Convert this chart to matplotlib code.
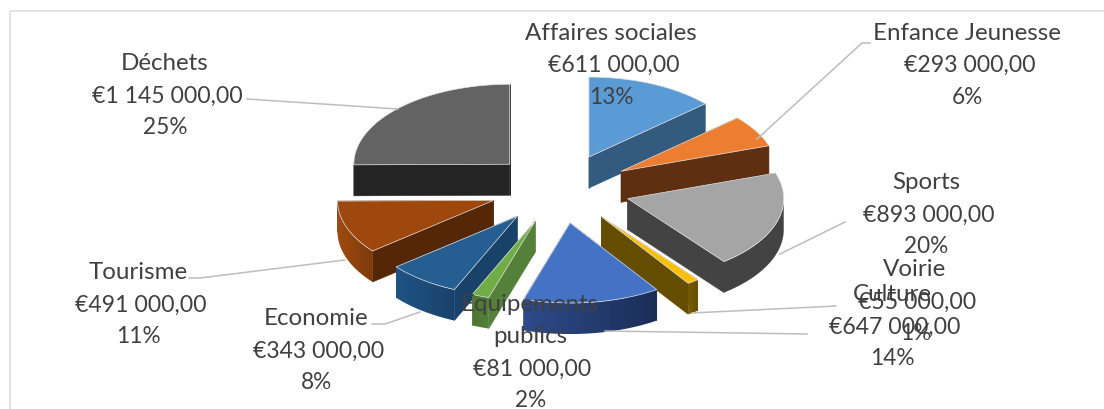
import numpy as np
import matplotlib
matplotlib.use('Agg')
import matplotlib.pyplot as plt
from matplotlib.patches import Polygon, Rectangle

categories = ['Affaires sociales', 'Enfance Jeunesse', 'Sports', 'Voirie', 'Culture',
              'Equipements\npublics', 'Economie', 'Tourisme', 'Déchets']
values = [611000, 293000, 893000, 55000, 647000, 81000, 343000, 491000, 1145000]

top_colors = ['#5B9BD5', '#ED7D31', '#A5A5A5', '#FFC000', '#4472C4',
              '#70AD47', '#255E91', '#9E480E', '#636363']
edge_colors = ['#335A7F', '#5F2F12', '#434343', '#654D00', '#1A2E55',
               '#55803A', '#19426A', '#552706', '#242424']
# outer wall colour at the left and right end of each slice
wall_left = ['#335A7F', '#5F2F12', '#434343', '#7A5D00', '#2E4A8A',
             '#4B7530', '#1F5484', '#A04B10', '#242424']
wall_right = ['#335A7F', '#5F2F12', '#434343', '#654D00', '#1A2E55',
              '#55803A', '#19426A', '#7E3A0B', '#242424']

# label centre x and y of the first line
label_pos = [(611, 33), (967, 33), (926, 183), (915, 270), (892, 295),
             (530, 305), (316, 319), (138, 273), (165, 64)]
leaders = [None,
           [(870, 44), (862, 44), (757, 140)],
           [(845, 223), (780, 255)],
           [(836, 307), (692, 314)],
           [(807, 335), (605, 332)],
           None,
           [(372, 325), (385, 325), (420, 313)],
           [(189, 279), (200, 279), (345, 261)],
           [(247, 100), (398, 110)]]

CX, CY = 560, 189.7
RX, RY = 156, 80
DEPTH = 31
EXPLODE_X, EXPLODE_Y = 70.7, 34.7
TEXT_COLOR = '#404040'
LINE_COLOR = '#BDBDBD'


def rgb(c):
    return np.array(matplotlib.colors.to_rgb(c))


def point(apex, theta):
    # theta is clockwise from 12 o'clock, y goes down on the picture
    return apex[0] + RX * np.sin(theta), apex[1] - RY * np.cos(theta)


fig = plt.figure(figsize=(11.04, 4.10), dpi=100)
ax = fig.add_axes([0, 0, 1, 1])
ax.axis('off')

# chart frame, cut off by the picture on the right and at the bottom
ax.add_patch(Rectangle((10, 12), 1200, 420, fill=False, ec='#DEDEDE', lw=1.2))

total = sum(values)
starts = 2 * np.pi * np.cumsum([0] + values[:-1]) / total
ends = 2 * np.pi * np.cumsum(values) / total
mids = (starts + ends) / 2
apexes = [(CX + EXPLODE_X * np.sin(m), CY - EXPLODE_Y * np.cos(m)) for m in mids]

# back to front
order = np.argsort([a[1] for a in apexes])
for z, i in enumerate(order):
    apex = apexes[i]
    zo = 2 + z
    arc_t = np.linspace(starts[i], ends[i], 80)
    arc = np.array([point(apex, t) for t in arc_t])

    # radial side faces
    for t in (starts[i], ends[i]):
        p = point(apex, t)
        quad = [apex, p, (p[0], p[1] + DEPTH), (apex[0], apex[1] + DEPTH)]
        ax.add_patch(Polygon(quad, closed=True, fc=edge_colors[i], ec=edge_colors[i], lw=0.4, zorder=zo))

    # outer wall, only the part turned to the viewer, with a left to right gradient
    front = arc[np.cos(arc_t) <= 0.02]
    if len(front) > 1:
        wall = np.vstack([front, front[::-1] + [0, DEPTH]])
        patch = Polygon(wall, closed=True, fc='none', ec='none', zorder=zo)
        ax.add_patch(patch)
        x0, x1 = arc[:, 0].min(), arc[:, 0].max()
        grad = np.linspace(rgb(wall_left[i]), rgb(wall_right[i]), 64)[np.newaxis, :, :]
        im = ax.imshow(grad, extent=(x0, x1, wall[:, 1].max(), wall[:, 1].min()), aspect='auto',
                       interpolation='bilinear', zorder=zo)
        im.set_clip_path(patch)

    # top face
    top = np.vstack([[apex], arc])
    ax.add_patch(Polygon(top, closed=True, fc=top_colors[i], ec='#E4E4E4', lw=0.5, zorder=zo + 0.5))

for i, name in enumerate(categories):
    if leaders[i] is not None:
        xs, ys = zip(*leaders[i])
        ax.plot(xs, ys, color=LINE_COLOR, lw=1.1, zorder=30)

    money = '€' + f'{values[i]:,}'.replace(',', ' ') + ',00'
    pct = f'{round(100 * values[i] / total)}%'
    name_lines = name.split('\n')
    lines = [(s, 17.4, 0) for s in name_lines] + [(money, 16.6, 2.5), (pct, 16.3, 0.5)]
    x, y = label_pos[i]
    for n, (line, size, dx) in enumerate(lines):
        ax.text(x + dx, y + 32 * n, line, ha='center', va='center', fontsize=size,
                family='Lato', color=TEXT_COLOR, zorder=40)

ax.set_xlim(0, 1104)
ax.set_ylim(410, 0)
fig.savefig('out.png', dpi=100)
